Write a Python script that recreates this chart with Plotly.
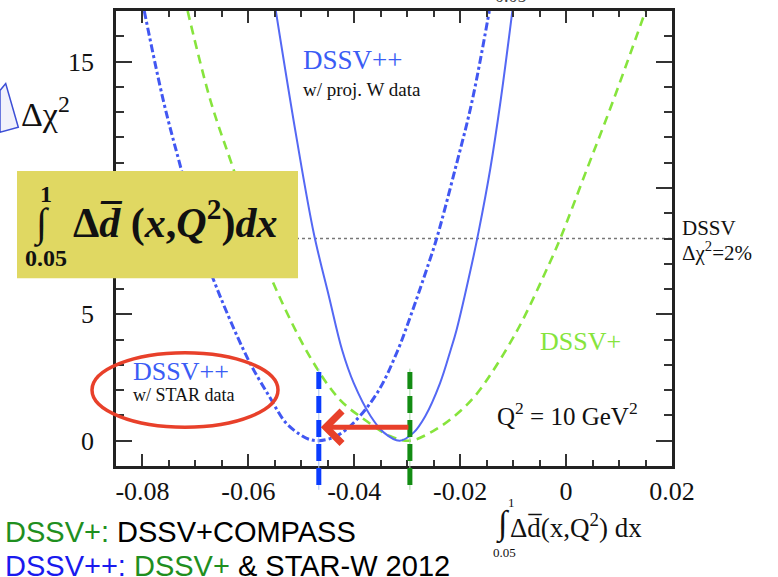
import plotly.graph_objects as go

# Δχ² profiles versus the truncated first moment of Δd̄ at Q² = 10 GeV²
star_x = [-0.07966, -0.07600, -0.07274, -0.06920, -0.06675, -0.06015, -0.05608,
          -0.05292, -0.05028, -0.04858, -0.04670, -0.04330, -0.03980, -0.03550,
          -0.03190, -0.02920, -0.02600, -0.02440, -0.02090, -0.01780, -0.01450]
star_chi2 = [17.0, 13.4, 10.78, 8.0, 6.46, 3.26, 1.76,
             0.71, 0.25, 0.06, 0.0, 0.19, 0.78, 1.95,
             3.52, 5.03, 6.99, 8.03, 10.78, 13.39, 17.0]

projw_x = [-0.05481, -0.05100, -0.04764, -0.04475, -0.04230, -0.04010, -0.03690,
           -0.03440, -0.03142, -0.02880, -0.02660, -0.02380, -0.02180, -0.02070,
           -0.01780, -0.01650, -0.01430, -0.01240, -0.01015]
projw_chi2 = [17.0, 12.1, 8.2, 5.68, 3.59, 2.28, 0.97,
              0.32, 0.0, 0.32, 0.97, 2.28, 3.59, 4.37,
              6.99, 8.29, 10.78, 13.4, 17.0]

compass_x = [-0.07147, -0.06708, -0.06287, -0.05840, -0.05575, -0.04840, -0.04274,
             -0.03770, -0.03330, -0.02953, -0.02513, -0.02072, -0.01689, -0.00953,
             -0.00320, -0.00104, 0.00400, 0.00880, 0.01500]
compass_chi2 = [17.0, 13.4, 10.78, 8.0, 6.46, 3.33, 1.63,
                0.78, 0.19, 0.0, 0.38, 1.04, 1.85, 4.25,
                6.99, 8.03, 10.78, 13.4, 17.0]

chi2_tolerance = 8.0      # DSSV Δχ² = 2%
star_best = -0.0467       # minimum with STAR data
compass_best = -0.0295    # minimum of DSSV+
arrow_level = 0.53

x_ticks = [-0.08, -0.06, -0.04, -0.02, 0.0, 0.02]
x_tick_text = ["-0.08", "-0.06", "-0.04", "-0.02", "0", "0.02"]
y_ticks = [0, 5, 10, 15]
y_tick_text = ["0", "5", "10", "15"]

W, H = 778, 577
L, R, T, B = 116, 106, 8, 111
PW, PH = W - L - R, H - T - B


def px(xp):
    return (xp - L) / PW


def py(yp):
    return (H - B - yp) / PH


SERIF = "Liberation Serif"
SANS = "Liberation Sans"
BLUE_CURVE = "#4157f2"
GREEN_CURVE = "#86e43c"

fig = go.Figure()

fig.add_trace(go.Scatter(
    x=compass_x, y=compass_chi2, mode="lines", line_shape="spline",
    line=dict(color=GREEN_CURVE, width=2.6, dash="9px,6px"), showlegend=False))
fig.add_trace(go.Scatter(
    x=projw_x, y=projw_chi2, mode="lines", line_shape="spline",
    line=dict(color="#5468f4", width=2), showlegend=False))
fig.add_trace(go.Scatter(
    x=star_x, y=star_chi2, mode="lines", line_shape="spline",
    line=dict(color=BLUE_CURVE, width=3, dash="8px,3px,3px,3px"), showlegend=False))

shapes = []
# DSSV tolerance level
shapes.append(dict(type="line", xref="paper", yref="y", x0=0, x1=1,
                   y0=chi2_tolerance, y1=chi2_tolerance, layer="below",
                   line=dict(color="#777777", width=1.5, dash="dot")))
# best-fit markers
for xv, col, pale in [(star_best, "#0a3cff", "#a9c4f5"), (compass_best, "#138c13", "#a6d8a6")]:
    shapes.append(dict(type="line", xref="x", yref="paper", x0=xv, x1=xv,
                       y0=py(490), y1=py(368), layer="above",
                       line=dict(color=pale, width=1)))
    shapes.append(dict(type="line", xref="x", yref="paper", x0=xv, x1=xv,
                       y0=py(485), y1=py(368), layer="above",
                       line=dict(color=col, width=5, dash="17px,7px")))
# formula box
shapes.append(dict(type="rect", xref="paper", yref="paper",
                   x0=px(17), x1=px(298), y0=py(277), y1=py(169),
                   fillcolor="#e0d862", line=dict(width=0), layer="above"))
# highlight ellipse
shapes.append(dict(type="circle", xref="paper", yref="paper",
                   x0=px(92), x1=px(278), y0=py(427), y1=py(352),
                   line=dict(color="#e8402a", width=3.5), layer="above"))
# cropped callout corner beside the axis label
shapes.append(dict(type="path", xref="paper", yref="paper",
                   path=f"M {px(0)},{py(88)} L {px(5.7)},{py(81)} L {px(18.3)},{py(125)} L {px(0)},{py(130)} Z",
                   fillcolor="#f1f1fb", line=dict(color="#3d4fd6", width=1.5), layer="above"))


def note(text, x, y, size, color="#111111", family=SERIF, xanchor="left", yanchor="middle"):
    return dict(text=text, x=px(x), y=py(y), xref="paper", yref="paper",
                xanchor=xanchor, yanchor=yanchor, showarrow=False,
                font=dict(family=family, size=size, color=color))


annotations = [
    note("DSSV++", 301, 57, 27, color="#3a5cf5"),
    note("w/ proj. W data", 301, 87, 19),
    note("DSSV", 680, 226, 21),
    note("Δχ<sup>2</sup>=2%", 680, 250, 21),
    note("DSSV+", 538, 341, 26, color=GREEN_CURVE),
    note("Q<sup>2</sup> = 10 GeV<sup>2</sup>", 495, 414, 25),
    note("DSSV++", 131, 371, 26, color="#3a5cf5"),
    note("w/ STAR data", 131, 395, 18),
    note("Δχ<sup>2</sup>", 19, 110, 34),
    # formula in the box
    note("<b>1</b>", 45.5, 192, 24, xanchor="center"),
    note("∫", 41, 222, 40, xanchor="center"),
    note("<b>0.05</b>", 46, 257, 24, xanchor="center"),
    note("<b>Δ<i>d̅</i> (<i>x</i>,<i>Q</i><sup>2</sup>)<i>dx</i></b>", 71, 218, 42),
    # x-axis label
    note("1", 511, 503, 13, xanchor="center"),
    note("∫", 503, 524, 34, xanchor="center"),
    note("0.05", 504, 553, 13, xanchor="center"),
    note("Δd̅(x,Q<sup>2</sup>) dx", 508, 526, 27),
    note("0.05", 511, -7, 18, color="#444444", xanchor="center"),
    # slide text
    note("<span style='color:#1f8f1f'>DSSV+:</span> DSSV+COMPASS", 3, 532, 29,
         color="#000000", family=SANS),
    note("<span style='color:#1a1aee'>DSSV++:</span> <span style='color:#1f8f1f'>DSSV+</span> &amp; STAR-W 2012",
         3, 567, 29, color="#000000", family=SANS),
    # shift of the minimum
    dict(x=star_best, y=arrow_level, ax=compass_best, ay=arrow_level,
         xref="x", yref="y", axref="x", ayref="y", text="", showarrow=True,
         arrowhead=4, arrowsize=1.25, arrowwidth=5, arrowcolor="#e8402a", standoff=2),
]

axis_common = dict(showline=True, linecolor="#222222", linewidth=2.5, mirror="ticks",
                   ticks="inside", tickcolor="#333333", tickwidth=2,
                   showgrid=False, zeroline=False,
                   tickfont=dict(family=SERIF, size=26, color="#111111"))

fig.update_layout(
    width=W, height=H, margin=dict(l=L, r=R, t=T, b=B),
    paper_bgcolor="white", plot_bgcolor="white",
    xaxis=dict(range=[-0.085, 0.02], tickmode="array", tickvals=x_ticks, ticktext=x_tick_text,
               ticklen=12, ticklabelstandoff=0,
               minor=dict(tickmode="linear", tick0=0, dtick=0.005, ticklen=6,
                          tickwidth=2, tickcolor="#333333", ticks="inside"),
               **axis_common),
    yaxis=dict(range=[-1, 17], tickmode="array", tickvals=y_ticks, ticktext=y_tick_text,
               ticklen=16, ticklabelstandoff=14,
               minor=dict(tickmode="linear", tick0=0, dtick=1, ticklen=8,
                          tickwidth=2, tickcolor="#333333", ticks="inside"),
               **axis_common),
    shapes=shapes, annotations=annotations, showlegend=False,
)

fig.write_html("out.html")
